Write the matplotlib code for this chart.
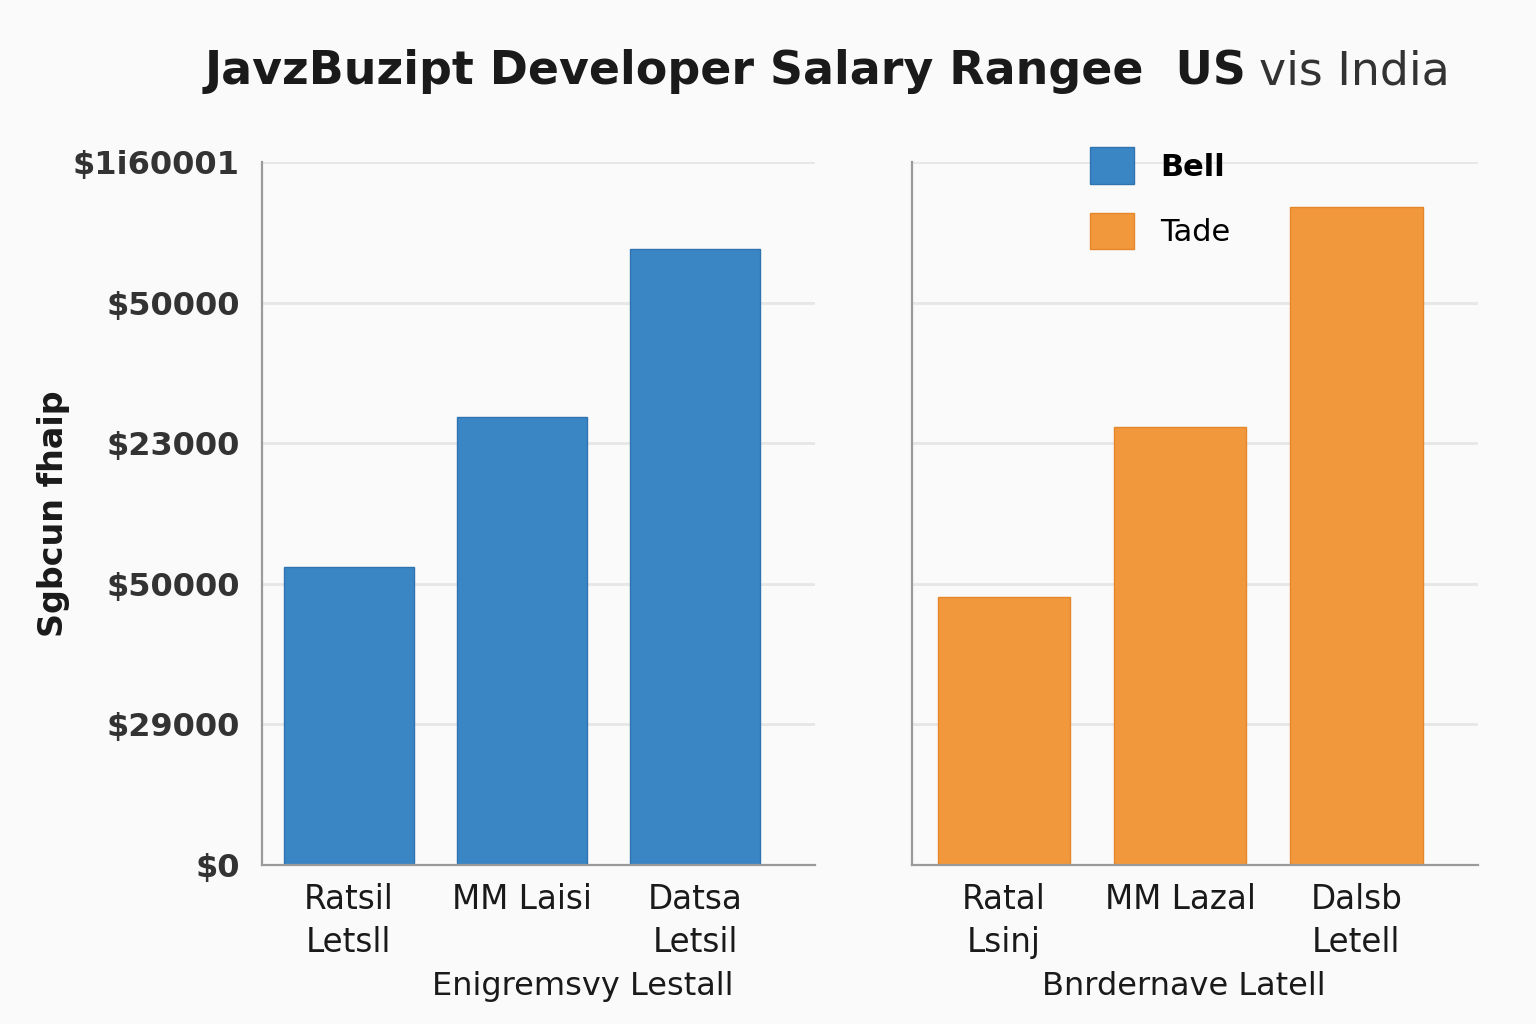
"""Developer salary range: US vs India, two side-by-side bar panels."""

import matplotlib

matplotlib.use("Agg")
import matplotlib.pyplot as plt

plt.rcParams["font.family"] = ["DejaVu Sans"]

BLUE = "#3A86C4"
ORANGE = "#F2983C"
INK = "#1A1A1A"
TICK_INK = "#333333"
GRID = "#E6E6E6"
SPINE = "#9A9A9A"
BG = "#FAFAFA"

# data
us_levels = ["Ratsil\nLetsll", "MM Laisi", "Datsa\nLetsil"]
india_levels = ["Ratal\nLsinj", "MM Lazal", "Dalsb\nLetell"]
us_salary = [42400, 63700, 87600]
india_salary = [38100, 62300, 93600]
y_ticks = [0, 20000, 40000, 60000, 80000, 100000]
y_tick_labels = ["$0", "$29000", "$50000", "$23000", "$50000", "$1i60001"]
legend_labels = ["Bell", "Tade"]

fig = plt.figure(figsize=(15.36, 10.24), dpi=100, facecolor=BG)
ax_l = fig.add_axes([0.1706, 0.1553, 0.360, 0.6865], facecolor=BG)
ax_r = fig.add_axes([0.5938, 0.1553, 0.3685, 0.6865], facecolor=BG)


def style(ax, levels):
    ax.set_ylim(0, 100000)
    ax.set_yticks(y_ticks)
    ax.set_xticks(range(len(levels)), levels)
    ax.grid(axis="y", color=GRID, linewidth=2)
    ax.set_axisbelow(True)
    for side in ("top", "right"):
        ax.spines[side].set_visible(False)
    for side in ("left", "bottom"):
        ax.spines[side].set_color(SPINE)
        ax.spines[side].set_linewidth(1.6)
    ax.tick_params(length=0, labelsize=22, colors=TICK_INK)
    ax.tick_params(axis="x", pad=13, colors=INK, labelsize=23.5)
    for label in ax.get_xticklabels():
        label.set_linespacing(1.4)


bars_l = ax_l.bar(range(3), us_salary, width=0.75, color=BLUE,
                  edgecolor="#2F74B0", linewidth=1)
ax_l.set_xlim(-0.5, 2.69)
style(ax_l, us_levels)
ax_l.set_yticklabels(y_tick_labels, fontweight="bold", fontsize=23)
ax_l.tick_params(axis="y", pad=16)
ax_l.set_ylabel("Sgbcun fhaip", fontsize=24, fontweight="bold", color=INK,
                labelpad=2)
ax_l.set_xlabel("Enigremsvy Lestall", fontsize=23, color=INK, labelpad=8)
ax_l.xaxis.label.set_x(0.58)

bars_r = ax_r.bar(range(3), india_salary, width=0.75, color=ORANGE,
                  edgecolor="#E5862A", linewidth=1)
ax_r.set_xlim(-0.52, 2.69)
style(ax_r, india_levels)
ax_r.set_yticklabels([])
ax_r.set_xlabel("Bnrdernave Latell", fontsize=23, color=INK, labelpad=8)
ax_r.xaxis.label.set_x(0.48)

leg = ax_r.legend([bars_l[0], bars_r[0]], legend_labels, loc="upper left",
                  bbox_to_anchor=(0.266, 1.06), frameon=False, fontsize=22,
                  handlelength=1.45, handleheight=1.45, handletextpad=0.85,
                  labelspacing=0.95)
leg.get_texts()[0].set_fontweight("bold")

title_main = fig.text(0.1335, 0.93, "JavzBuzipt Developer Salary Rangee  US",
                      fontsize=33, fontweight="bold", color=INK,
                      ha="left", va="center")
fig.canvas.draw()
box = title_main.get_window_extent().transformed(fig.transFigure.inverted())
fig.text(box.x1 + 0.008, 0.93, "vis India", fontsize=33, color="#333333",
         ha="left", va="center")

fig.savefig("out.png", dpi=100, facecolor=BG)
